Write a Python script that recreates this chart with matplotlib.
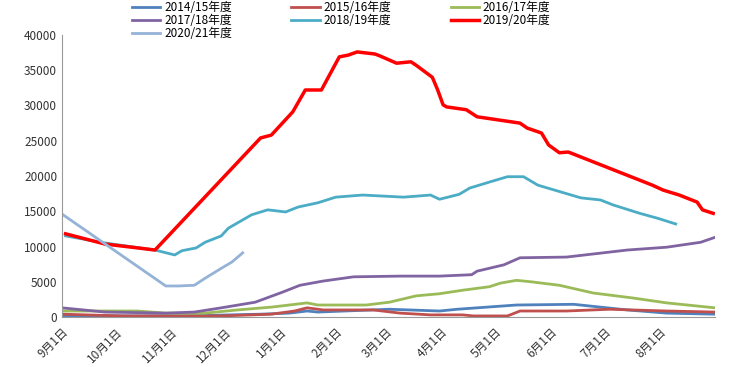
import matplotlib.pyplot as plt

plt.rcParams['font.family'] = ['Noto Sans CJK SC', 'DejaVu Sans']

# x values are days since 9月1日
month_days = [0, 30, 61, 91, 122, 153, 181, 212, 242, 273, 303, 334]
month_labels = ['9月1日', '10月1日', '11月1日', '12月1日', '1月1日', '2月1日',
                '3月1日', '4月1日', '5月1日', '6月1日', '7月1日', '8月1日']

d_1415 = [0, 44, 77, 111, 127, 137, 143, 183, 211, 221, 232, 254, 286, 301, 316, 338, 365]
v_1415 = [200, 150, 200, 400, 550, 850, 700, 1100, 850, 1100, 1300, 1700, 1800, 1400, 1000, 550, 400]

d_1516 = [0, 34, 89, 117, 130, 137, 146, 174, 189, 206, 224, 230, 249, 256, 282, 306, 338, 365]
v_1516 = [400, 150, 150, 400, 850, 1300, 1000, 1000, 550, 300, 300, 150, 150, 850, 850, 1100, 850, 700]

d_1617 = [0, 42, 58, 80, 98, 117, 137, 143, 170, 183, 198, 211, 224, 239, 245, 254, 262, 278, 297, 319, 338, 365]
v_1617 = [850, 850, 550, 550, 1000, 1400, 2000, 1700, 1700, 2100, 3000, 3300, 3800, 4300, 4800, 5200, 5000,
          4500, 3400, 2700, 2000, 1300]

d_1718 = [0, 24, 58, 74, 89, 108, 123, 133, 146, 163, 189, 211, 229, 232, 247, 256, 282, 316, 338, 357, 365]
v_1718 = [1300, 700, 550, 700, 1300, 2100, 3500, 4500, 5100, 5700, 5800, 5800, 6000, 6500, 7400, 8400,
          8500, 9500, 9900, 10600, 11300]

d_1819 = [2, 24, 52, 63, 67, 75, 80, 89, 93, 106, 115, 125, 132, 143, 153, 168, 191, 206, 211, 222, 228,
          241, 249, 258, 266, 290, 301, 308, 323, 333, 343]
v_1819 = [11500, 10500, 9500, 8800, 9400, 9800, 10600, 11500, 12600, 14500, 15200, 14900, 15600, 16200,
          17000, 17300, 17000, 17300, 16700, 17400, 18300, 19300, 19900, 19900, 18700, 16900, 16600,
          15900, 14700, 14000, 13200]

d_1920 = [2, 24, 39, 52, 111, 117, 129, 136, 145, 155, 160, 165, 175, 178, 187, 195, 198, 207, 210, 213,
          215, 226, 232, 256, 260, 268, 272, 278, 283, 330, 336, 345, 355, 358, 364]
v_1920 = [11800, 10350, 9900, 9500, 25400, 25800, 29100, 32200, 32200, 36900, 37150, 37600, 37300, 37000,
          36000, 36200, 35700, 34000, 32200, 30100, 29800, 29400, 28400, 27500, 26800, 26100, 24400,
          23300, 23400, 18700, 18000, 17300, 16300, 15200, 14700]

d_2021 = [0, 58, 65, 74, 80, 89, 95, 101]
v_2021 = [14600, 4400, 4400, 4500, 5500, 6900, 7800, 9100]

fig = plt.figure(figsize=(7.3, 3.67), dpi=100)
ax = fig.add_axes([62 / 730, 1 - 317 / 367, 653 / 730, 282 / 367])

l1, = ax.plot(d_1415, v_1415, color='#4F81BD', lw=2, label='2014/15年度')
l2, = ax.plot(d_1516, v_1516, color='#C0504D', lw=2, label='2015/16年度')
l3, = ax.plot(d_1617, v_1617, color='#9BBB59', lw=2, label='2016/17年度')
l4, = ax.plot(d_1718, v_1718, color='#8064A2', lw=2, label='2017/18年度')
l5, = ax.plot(d_1819, v_1819, color='#4BACC6', lw=2, label='2018/19年度')
l6, = ax.plot(d_1920, v_1920, color='#FF0000', lw=2.5, label='2019/20年度')
l7, = ax.plot(d_2021, v_2021, color='#95B3D7', lw=2, label='2020/21年度')

ax.set_xlim(0, 365)
ax.set_ylim(0, 40000)
ax.set_yticks(range(0, 40001, 5000))
ax.set_xticks(month_days)
ax.set_xticklabels(month_labels, rotation=45, ha='right', rotation_mode='anchor')
ax.tick_params(axis='both', length=0, labelsize=8.5, colors='#333333')
ax.tick_params(axis='x', pad=6)
for s in ['top', 'right']:
    ax.spines[s].set_visible(False)
for s in ['left', 'bottom']:
    ax.spines[s].set_color('#999999')

# row-major order like the original legend
handles = [l1, l4, l7, l2, l5, l3, l6]
fig.legend(handles=handles, labels=[h.get_label() for h in handles],
           loc='upper left', bbox_to_anchor=(126 / 730, 1.012), ncol=3, frameon=False,
           fontsize=8.5, handlelength=2.4, columnspacing=5.0, labelspacing=0.0,
           handletextpad=0.35, borderpad=0.0)

plt.savefig('out.png', dpi=100)
